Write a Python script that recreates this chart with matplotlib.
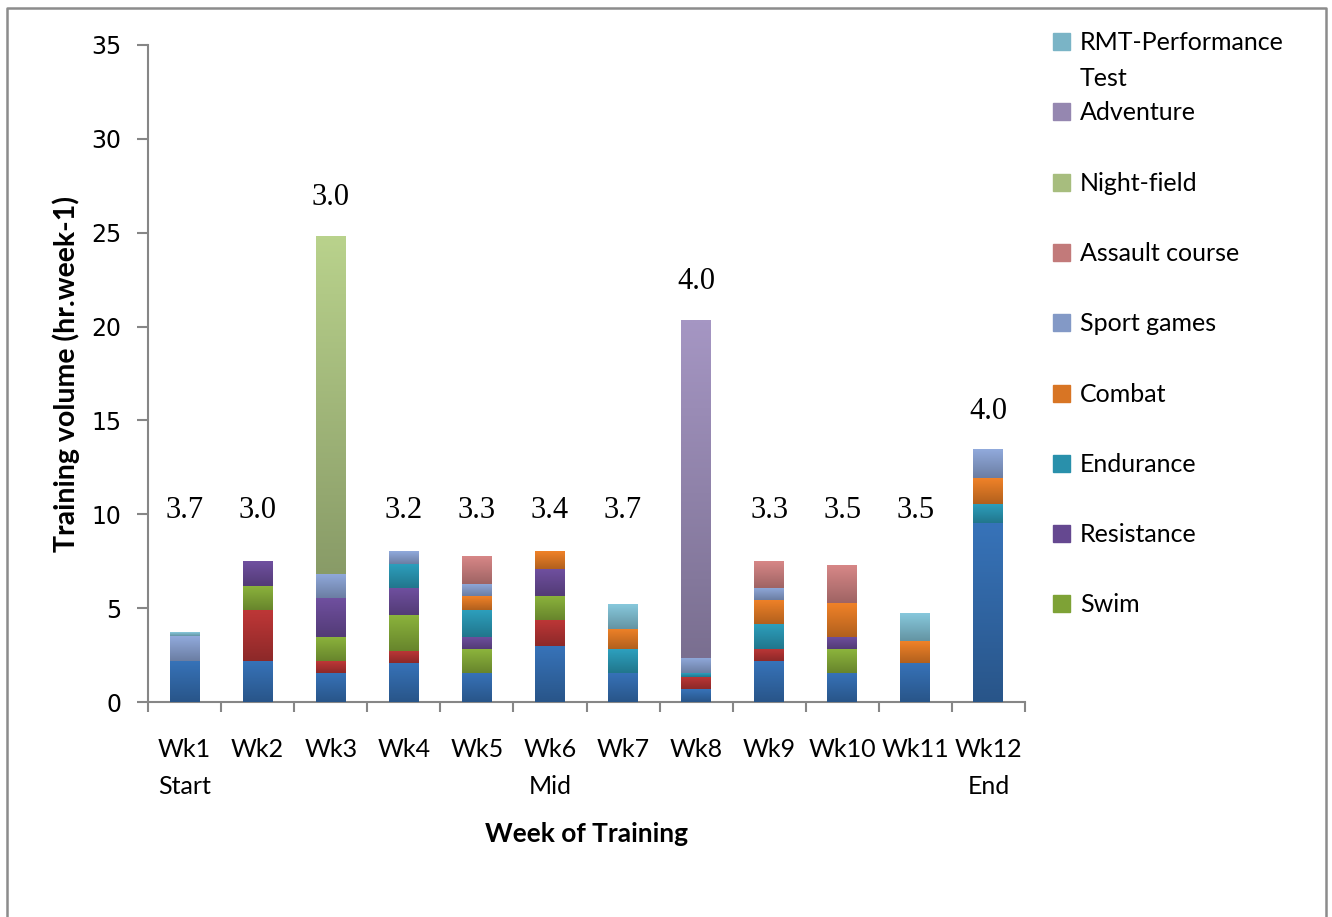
import matplotlib
matplotlib.use("Agg")
import matplotlib.pyplot as plt
from matplotlib.lines import Line2D
from matplotlib.patches import Rectangle
import numpy as np

# weeks of training
weeks = ['Wk1\nStart', 'Wk2', 'Wk3', 'Wk4', 'Wk5', 'Wk6\nMid', 'Wk7',
         'Wk8', 'Wk9', 'Wk10', 'Wk11', 'Wk12\nEnd']

# hours per activity, stacked bottom -> top (first two series not named in legend)
blue_base  = [2.2, 2.2, 1.55, 2.08, 1.55, 2.98, 1.55, 0.69, 2.18, 1.55, 2.08, 9.52]
red_base   = [0,   2.7, 0.63, 0.64, 0,    1.39, 0,    0.64, 0.64, 0,    0,    0]
swim       = [0,   1.3, 1.28, 1.92, 1.27, 1.28, 0,    0,    0,    1.27, 0,    0]
resistance = [0,   1.3, 2.08, 1.45, 0.64, 1.44, 0,    0,    0,    0.64, 0,    0]
endurance  = [0,   0,   0,    1.28, 1.46, 0,    1.27, 0.2,  1.35, 0,    0,    1.03]
combat     = [0,   0,   0,    0,    0.73, 0.95, 1.07, 0,    1.28, 1.81, 1.17, 1.38]
sport      = [1.3, 0,   1.28, 0.67, 0.64, 0,    0,    0.81, 0.64, 0,    0,    1.5]
assault    = [0,   0,   0,    0,    1.49, 0,    0,    0,    1.42, 1.99, 0,    0]
nightfield = [0,   0,   17.98, 0,   0,    0,    0,    0,    0,    0,    0,    0]
adventure  = [0,   0,   0,    0,    0,    0,    0,    18.0, 0,    0,    0,    0]
rmt        = [0.2, 0,   0,    0,    0,    0,    1.33, 0,    0,    0,    1.46, 0]

# values printed above the bars
top_labels = ['3.7', '3.0', '3.0', '3.2', '3.3', '3.4', '3.7', '4.0',
              '3.3', '3.5', '3.5', '4.0']

series = [
    ('', blue_base, (55, 115, 185)),
    ('', red_base, (190, 55, 55)),
    ('Swim', swim, (140, 180, 60)),
    ('Resistance', resistance, (112, 80, 160)),
    ('Endurance', endurance, (45, 160, 190)),
    ('Combat', combat, (240, 130, 40)),
    ('Sport games', sport, (145, 170, 220)),
    ('Assault course', assault, (215, 135, 135)),
    ('Night-field', nightfield, (185, 210, 140)),
    ('Adventure', adventure, (165, 150, 195)),
    ('RMT-Performance\nTest', rmt, (135, 200, 220)),
]

W, H = 1332, 917
fig = plt.figure(figsize=(W / 100, H / 100), dpi=100)
ax = fig.add_axes([148 / W, 1 - 702 / H, (1025 - 148) / W, (702 - 45) / H])

x = np.arange(len(weeks))
bottom = np.zeros(len(weeks))
for name, vals, rgb in series:
    c = np.array(rgb) / 255
    bars = ax.bar(x, vals, 0.41, bottom=bottom, color=c, linewidth=0, zorder=2)
    # excel style vertical gradient, darker at the bottom
    for r in bars:
        if r.get_height() <= 0:
            continue
        grad = np.linspace(0, 1, 64)[:, None, None]
        img = c * 0.74 + (c - c * 0.74) * grad
        ax.imshow(img, extent=(r.get_x(), r.get_x() + r.get_width(),
                               r.get_y(), r.get_y() + r.get_height()),
                  origin='lower', aspect='auto', zorder=3, interpolation='bilinear')
    bottom += np.array(vals)

for i, t in enumerate(top_labels):
    ax.text(x[i], max(bottom[i] + 2.05, 10.2), t, ha='center', va='center',
            fontsize=22, family='Liberation Serif', zorder=5)

ax.set_xlim(-0.5, 11.5)
ax.set_ylim(0, 35)
ax.set_yticks(range(0, 36, 5))
ax.set_xticks(x)
ax.set_xticklabels(weeks, family='Lato', fontsize=18, linespacing=1.75)
ax.set_xticks(np.arange(-0.5, 12, 1), minor=True)
ax.tick_params(axis='x', which='major', length=0, pad=26)
ax.tick_params(axis='x', which='minor', length=7, direction='out', color='#868686', width=1.5)
ax.tick_params(axis='y', length=8, direction='out', color='#868686', width=1.5,
               labelsize=17, pad=11)
for s in ['top', 'right']:
    ax.spines[s].set_visible(False)
for s in ['left', 'bottom']:
    ax.spines[s].set_color('#868686')
    ax.spines[s].set_linewidth(1.5)

ax.set_ylabel('Training volume (hr.week-1)', family='Lato', fontweight='bold', fontsize=20.5)
ax.yaxis.set_label_coords(-0.077, 0.5)
ax.set_xlabel('Week of Training', family='Lato', fontweight='bold', fontsize=19)
ax.xaxis.set_label_coords(0.5, -0.183)

# legend drawn by hand (only the named series, top to bottom)
legend_items = [s for s in series if s[0]][::-1]
for i, (name, vals, rgb) in enumerate(legend_items):
    yc = 42 + 70.3 * i
    fig.patches.append(Rectangle((1053 / W, 1 - (yc + 8) / H), 17 / W, 17 / H,
                                 transform=fig.transFigure,
                                 color=np.array(rgb) / 255 * 0.9))
    fig.text(1080 / W, 1 - (yc - 11) / H, name, family='Lato', fontsize=18,
             va='top', ha='left', linespacing=1.7)

# outer chart border
fig.add_artist(Line2D([7 / W, 7 / W, 1326 / W, 1326 / W], [0, 1 - 8 / H, 1 - 8 / H, 0],
                      transform=fig.transFigure, color='#8c8c8c', linewidth=1.8))

fig.savefig('out.png', dpi=100)
